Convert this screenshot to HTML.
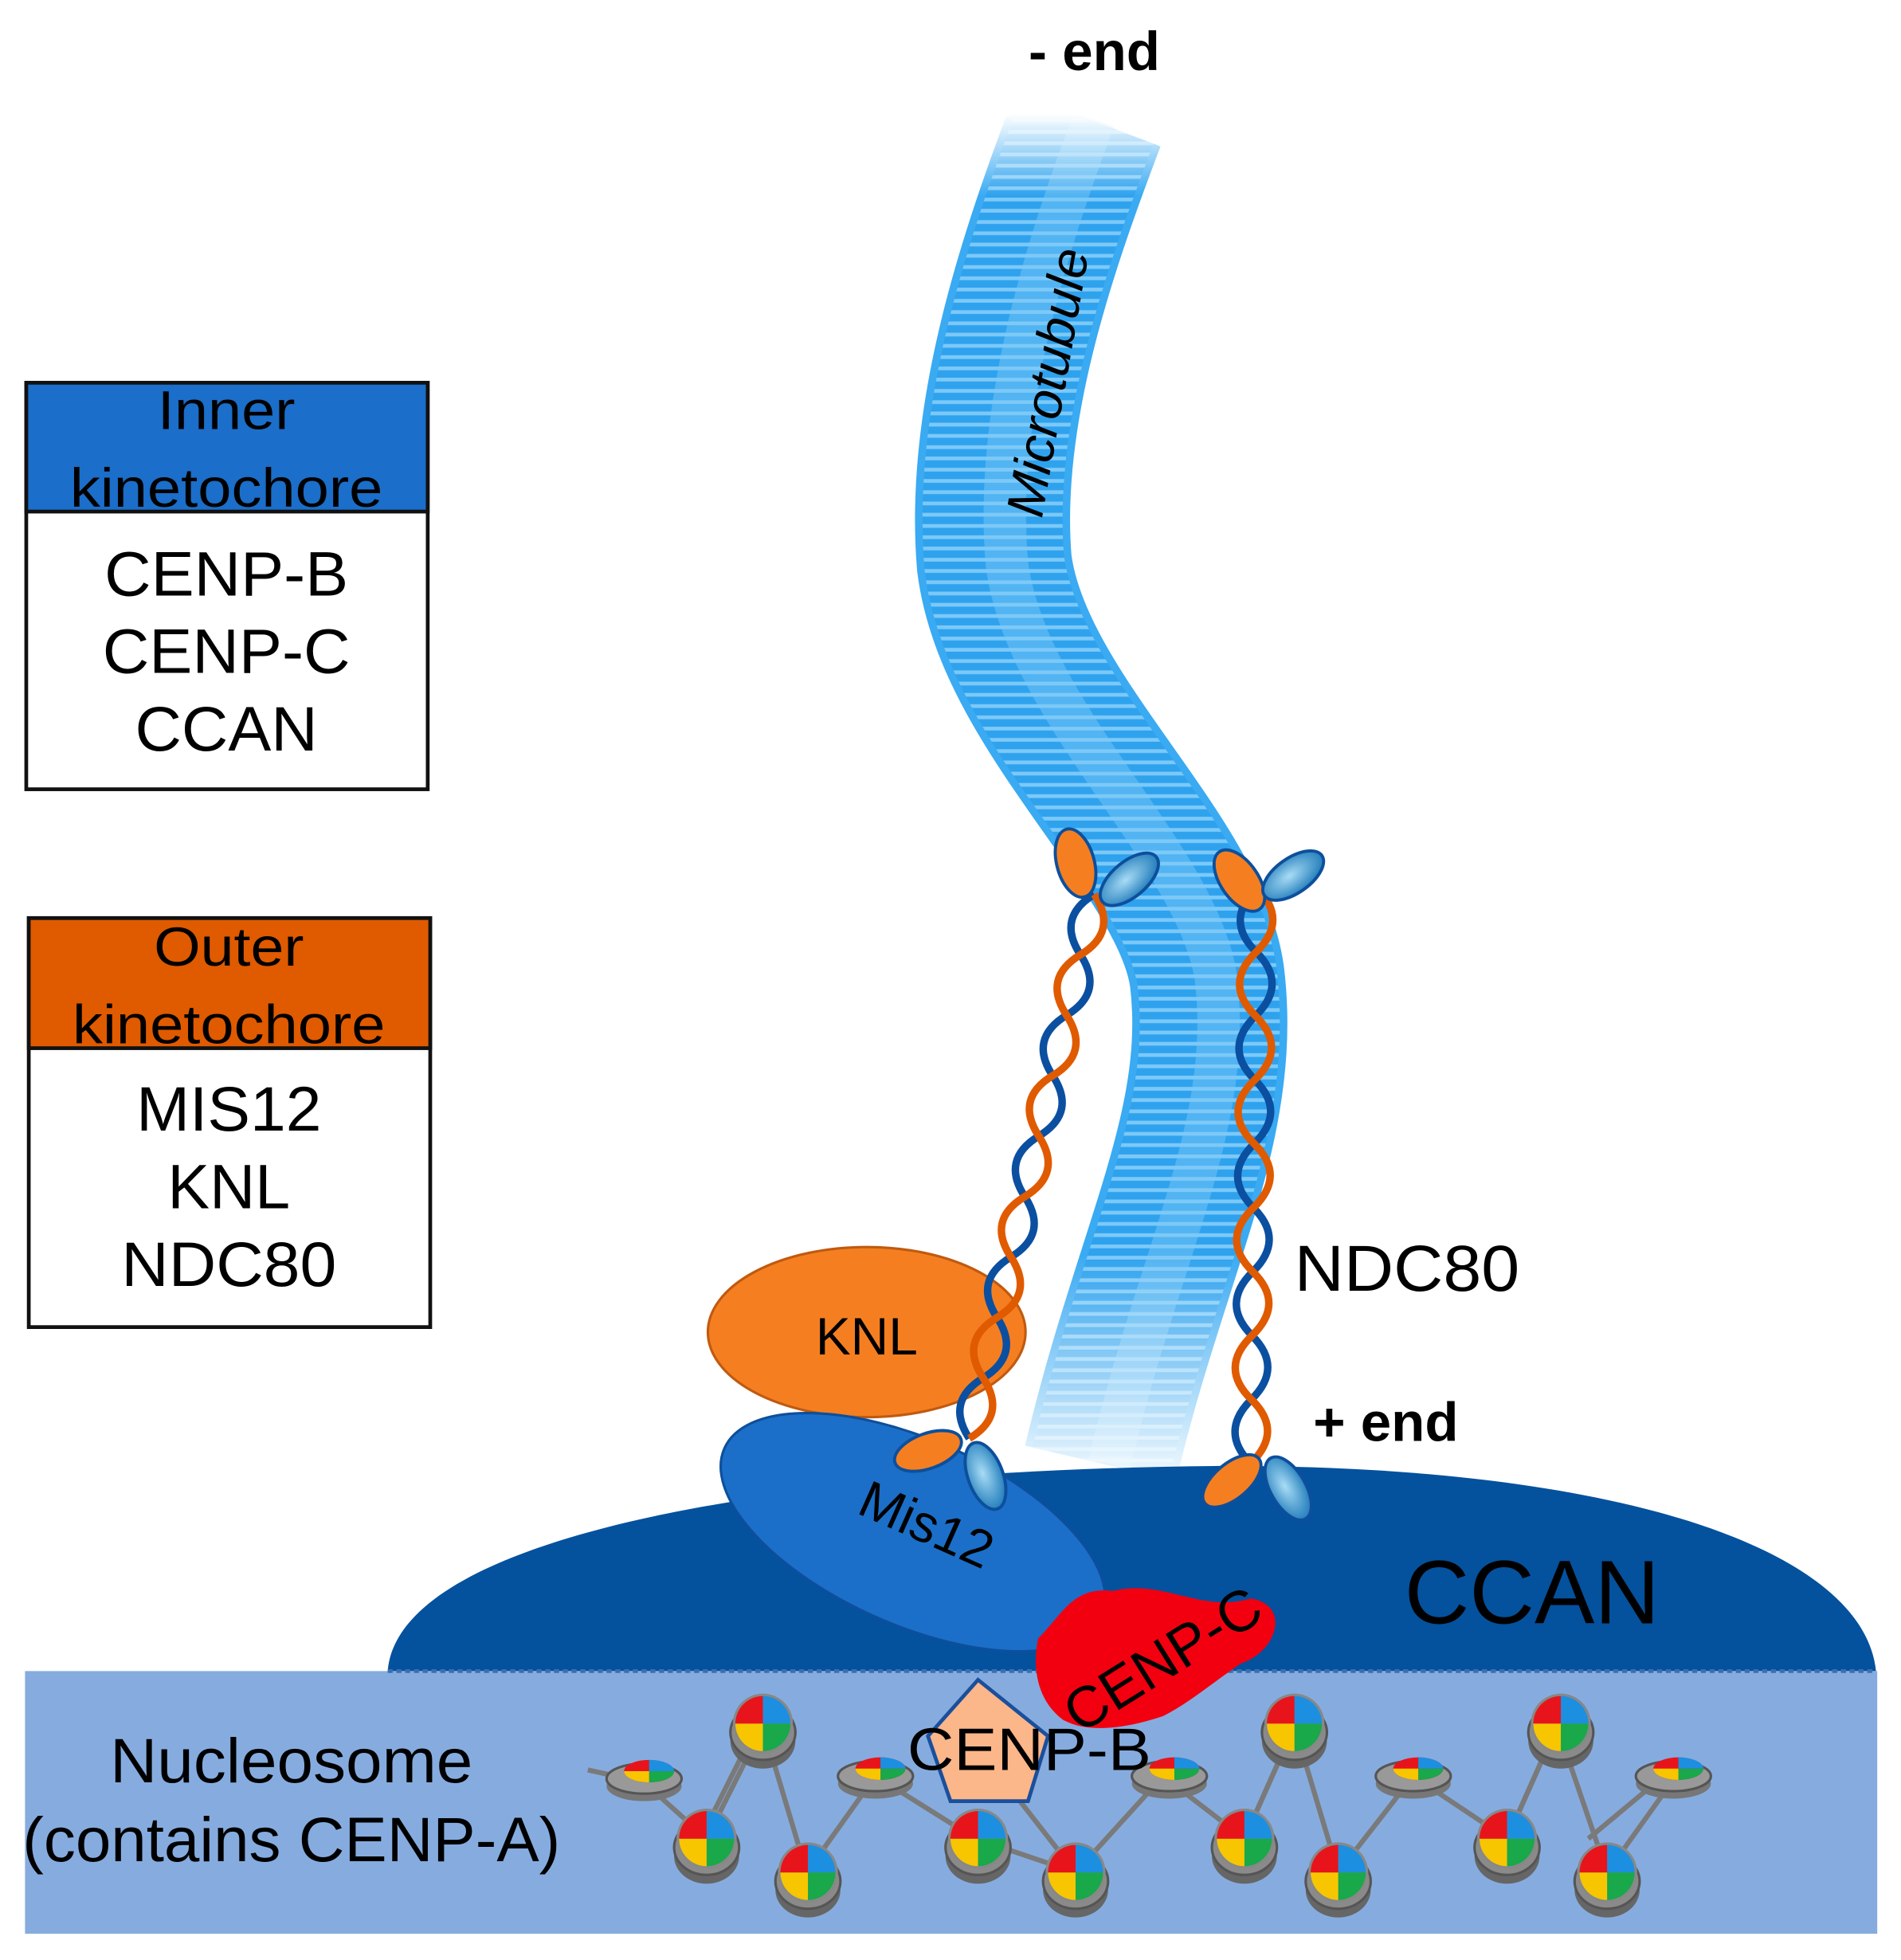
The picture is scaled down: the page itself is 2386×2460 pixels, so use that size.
<!DOCTYPE html>
<html><head><meta charset="utf-8"><style>
html,body{margin:0;padding:0;background:#fff;}
svg{display:block;}
text{font-family:"Liberation Sans",sans-serif;}
</style></head><body>
<svg width="2386" height="2460" viewBox="0 0 1520 1567" preserveAspectRatio="none" xmlns="http://www.w3.org/2000/svg">
<defs>
  <pattern id="stripes" patternUnits="userSpaceOnUse" width="20" height="9">
    <rect width="20" height="9" fill="#2fa2ee"/>
    <rect y="5" width="20" height="3" fill="#7cc9f8"/>
  </pattern>
  <linearGradient id="fade" x1="0" y1="0" x2="0" y2="1567" gradientUnits="userSpaceOnUse">
    <stop offset="0.058" stop-color="#fff" stop-opacity="0"/>
    <stop offset="0.10" stop-color="#fff" stop-opacity="1"/>
    <stop offset="0.64" stop-color="#fff" stop-opacity="1"/>
    <stop offset="0.75" stop-color="#fff" stop-opacity="0.1"/>
  </linearGradient>
  <mask id="mtmask" maskUnits="userSpaceOnUse" x="0" y="0" width="1520" height="1567">
    <rect width="1520" height="1567" fill="url(#fade)"/>
  </mask>
  <radialGradient id="bl" cx="0.45" cy="0.45" r="0.6">
    <stop offset="0" stop-color="#a8dcf5"/><stop offset="1" stop-color="#1b78b8"/>
  </radialGradient>
  <g id="disc">
    <ellipse cx="0" cy="14" rx="26" ry="22" fill="#666"/>
    <ellipse cx="0" cy="7" rx="26" ry="22" fill="#8a8a8a" stroke="#555" stroke-width="2"/>
    <circle r="24" fill="#888"/>
    <path d="M0 0 L0 -22 A22 22 0 0 1 22 0 Z" fill="#1d8fe0"/>
    <path d="M0 0 L22 0 A22 22 0 0 1 0 22 Z" fill="#19a84a"/>
    <path d="M0 0 L0 22 A22 22 0 0 1 -22 0 Z" fill="#f7c600"/>
    <path d="M0 0 L-22 0 A22 22 0 0 1 0 -22 Z" fill="#e8141c"/>
  </g>
  <g id="sdisc">
    <ellipse cx="0" cy="8" rx="30" ry="12" fill="#777"/>
    <ellipse cx="0" cy="2" rx="30" ry="12" fill="#999" stroke="#555" stroke-width="2"/>
    <ellipse cx="4" cy="-4" rx="20" ry="9" fill="#e8141c"/>
    <path d="M4 -4 L24 -4 A20 9 0 0 1 4 5 Z" fill="#19a84a"/>
    <path d="M4 -4 L4 5 A20 9 0 0 1 -16 -4 Z" fill="#f7c600"/>
    <path d="M4 -4 L4 -13 A20 9 0 0 1 24 -4 Z" fill="#1d8fe0"/>
  </g>
</defs>

<text x="875" y="56" font-size="44" font-weight="bold" text-anchor="middle">- end</text>

<!-- microtubule -->
<g mask="url(#mtmask)">
  <path d="M870 95 C830 200 785 330 795 450 C810 570 950 680 965 780 C980 900 920 1000 880 1170" fill="none" stroke="#3aaaf2" stroke-width="124"/>
  <path d="M870 95 C830 200 785 330 795 450 C810 570 950 680 965 780 C980 900 920 1000 880 1170" fill="none" stroke="url(#stripes)" stroke-width="112"/>
  <path d="M875 95 C835 200 795 330 805 450 C820 570 955 680 972 780 C987 900 927 1000 887 1170" fill="none" stroke="#7fcaf7" stroke-opacity="0.45" stroke-width="34"/>
</g>
<text transform="translate(833,415) rotate(-80)" font-size="42" font-style="italic">Microtubule</text>

<!-- legend boxes -->
<rect x="21" y="306" width="321" height="325" fill="#fff" stroke="#111" stroke-width="3"/>
<rect x="21" y="306" width="321" height="103" fill="#1b6ec9" stroke="#111" stroke-width="3"/>
<text x="181" y="343" font-size="44" text-anchor="middle" textLength="110" lengthAdjust="spacingAndGlyphs">Inner</text>
<text x="181" y="405" font-size="44" text-anchor="middle" textLength="250" lengthAdjust="spacingAndGlyphs">kinetochore</text>
<text x="181" y="476" font-size="50" text-anchor="middle" textLength="195" lengthAdjust="spacingAndGlyphs">CENP-B</text>
<text x="181" y="538" font-size="50" text-anchor="middle" textLength="198" lengthAdjust="spacingAndGlyphs">CENP-C</text>
<text x="181" y="600" font-size="50" text-anchor="middle" textLength="146" lengthAdjust="spacingAndGlyphs">CCAN</text>

<rect x="23" y="734" width="321" height="327" fill="#fff" stroke="#111" stroke-width="3"/>
<rect x="23" y="734" width="321" height="104" fill="#e05a00" stroke="#111" stroke-width="3"/>
<text x="183" y="772" font-size="44" text-anchor="middle" textLength="120" lengthAdjust="spacingAndGlyphs">Outer</text>
<text x="183" y="834" font-size="44" text-anchor="middle" textLength="250" lengthAdjust="spacingAndGlyphs">kinetochore</text>
<text x="183" y="904" font-size="50" text-anchor="middle" textLength="148" lengthAdjust="spacingAndGlyphs">MIS12</text>
<text x="183" y="966" font-size="50" text-anchor="middle" textLength="98" lengthAdjust="spacingAndGlyphs">KNL</text>
<text x="183" y="1028" font-size="50" text-anchor="middle" textLength="172" lengthAdjust="spacingAndGlyphs">NDC80</text>

<!-- CCAN dome -->
<path d="M310 1336 C318 1232 600 1175 980 1172 C1300 1172 1490 1240 1500 1336 Z" fill="#04519e"/>
<text x="1225" y="1298" font-size="72" text-anchor="middle">CCAN</text>

<!-- nucleosome region -->
<rect x="20" y="1336" width="1481" height="210" fill="#86acdf"/>
<line x1="310" y1="1336" x2="1500" y2="1336" stroke="#3b6fb0" stroke-width="3" stroke-dasharray="4 3"/>
<text x="233" y="1425" font-size="50" text-anchor="middle" textLength="290" lengthAdjust="spacingAndGlyphs">Nucleosome</text>
<text x="233" y="1488" font-size="50" text-anchor="middle" textLength="430" lengthAdjust="spacingAndGlyphs">(contains CENP-A)</text>

<!-- linker DNA -->
<g fill="none" stroke="#7a7a7a" stroke-width="4">
  <path d="M470 1415 L515 1425 L565 1470 L610 1380 L645 1497"/>
  <path d="M595 1400 L560 1470"/>
  <path d="M700 1420 L645 1497 M700 1420 L780 1470 L860 1497 L930 1420 L995 1470 L1035 1380 L1070 1497"/>
  <path d="M1035 1380 L995 1470 M1130 1420 L1070 1497 M1130 1420 L1205 1470 L1245 1380 L1285 1497 L1340 1420"/>
  <path d="M1245 1380 L1205 1470 M860 1497 L800 1420 M1270 1470 L1330 1420"/>
</g>
<use href="#sdisc" x="515" y="1420"/>
<use href="#sdisc" x="700" y="1418"/>
<use href="#sdisc" x="935" y="1418"/>
<use href="#sdisc" x="1130" y="1418"/>
<use href="#sdisc" x="1338" y="1418"/>
<use href="#disc" x="610" y="1378"/>
<use href="#disc" x="1035" y="1378"/>
<use href="#disc" x="1248" y="1378"/>
<use href="#disc" x="565" y="1470"/>
<use href="#disc" x="782" y="1470"/>
<use href="#disc" x="995" y="1470"/>
<use href="#disc" x="1205" y="1470"/>
<use href="#disc" x="646" y="1497"/>
<use href="#disc" x="860" y="1497"/>
<use href="#disc" x="1070" y="1497"/>
<use href="#disc" x="1285" y="1497"/>

<!-- KNL -->
<ellipse cx="693" cy="1065" rx="127" ry="68" fill="#f57f20" stroke="#c05a10" stroke-width="2"/>
<text x="693" y="1083" font-size="42" text-anchor="middle">KNL</text>

<!-- Mis12 -->
<ellipse cx="730" cy="1225" rx="165" ry="74" transform="rotate(24 730 1225)" fill="#1b6fc8" stroke="#0d4f9c" stroke-width="2"/>
<text transform="translate(735,1232) rotate(24)" font-size="42" text-anchor="middle">Mis12</text>

<!-- CENP-C -->
<path d="M830 1310 C850 1290 858 1268 890 1272 C930 1262 960 1290 1000 1278 C1032 1283 1022 1320 992 1330 C970 1345 950 1362 930 1372 C900 1382 870 1386 850 1375 C830 1360 825 1335 830 1310 Z" fill="#f20010"/>
<text transform="translate(938,1340) rotate(-32)" font-size="46" text-anchor="middle">CENP-C</text>

<!-- CENP-B -->
<polygon points="782,1343 838,1388 822,1440 760,1440 742,1388" fill="#fbb68a" stroke="#1a4f9c" stroke-width="3"/>
<text x="823" y="1415" font-size="48" text-anchor="middle" textLength="195" lengthAdjust="spacingAndGlyphs">CENP-B</text>

<!-- NDC80 strands -->
<g fill="none" stroke-width="6">
  <path stroke="#0b4fa0" d="M875 715 Q844.4 733.5 863.9 763.3 T852.8 811.7 T841.7 860 T830.6 908.3 T819.4 956.7 T808.3 1005 T797.2 1053.3 T786.1 1101.7 T775 1150"/>
  <path stroke="#e05a00" d="M875 715 Q894.4 744.9 863.9 763.3 T852.8 811.7 T841.7 860 T830.6 908.3 T819.4 956.7 T808.3 1005 T797.2 1053.3 T786.1 1101.7 T775 1150"/>
  <path stroke="#0b4fa0" d="M1005 710 Q978.7 735.6 1004.4 761.1 T1003.9 812.2 T1003.3 863.3 T1002.8 914.4 T1002.2 965.6 T1001.7 1016.7 T1001.1 1067.8 T1000.6 1118.9 T1000 1170"/>
  <path stroke="#e05a00" d="M1005 710 Q1030.7 735.6 1004.4 761.1 T1003.9 812.2 T1003.3 863.3 T1002.8 914.4 T1002.2 965.6 T1001.7 1016.7 T1001.1 1067.8 T1000.6 1118.9 T1000 1170"/>
</g>
<g stroke="#0d4f9c" stroke-width="2.5">
  <ellipse cx="860" cy="690" rx="15" ry="28" transform="rotate(-15 860 690)" fill="#f57f20"/>
  <ellipse cx="903" cy="703" rx="28" ry="14" transform="rotate(-40 903 703)" fill="url(#bl)"/>
  <ellipse cx="991" cy="704" rx="15" ry="28" transform="rotate(-35 991 704)" fill="#f57f20"/>
  <ellipse cx="1034" cy="700" rx="28" ry="14" transform="rotate(-35 1034 700)" fill="url(#bl)"/>
  <ellipse cx="742" cy="1160" rx="28" ry="14" transform="rotate(-20 742 1160)" fill="#f57f20"/>
  <ellipse cx="788" cy="1180" rx="14" ry="28" transform="rotate(-20 788 1180)" fill="url(#bl)"/>
  <ellipse cx="985" cy="1184" rx="28" ry="14" transform="rotate(-40 985 1184)" fill="#f57f20"/>
  <ellipse cx="1030" cy="1190" rx="14" ry="28" transform="rotate(-30 1030 1190)" fill="url(#bl)"/>
</g>
<text x="1035" y="1032" font-size="52" textLength="180" lengthAdjust="spacingAndGlyphs">NDC80</text>
<text x="1050" y="1152" font-size="44" font-weight="bold">+ end</text>
</svg>
</body></html>
